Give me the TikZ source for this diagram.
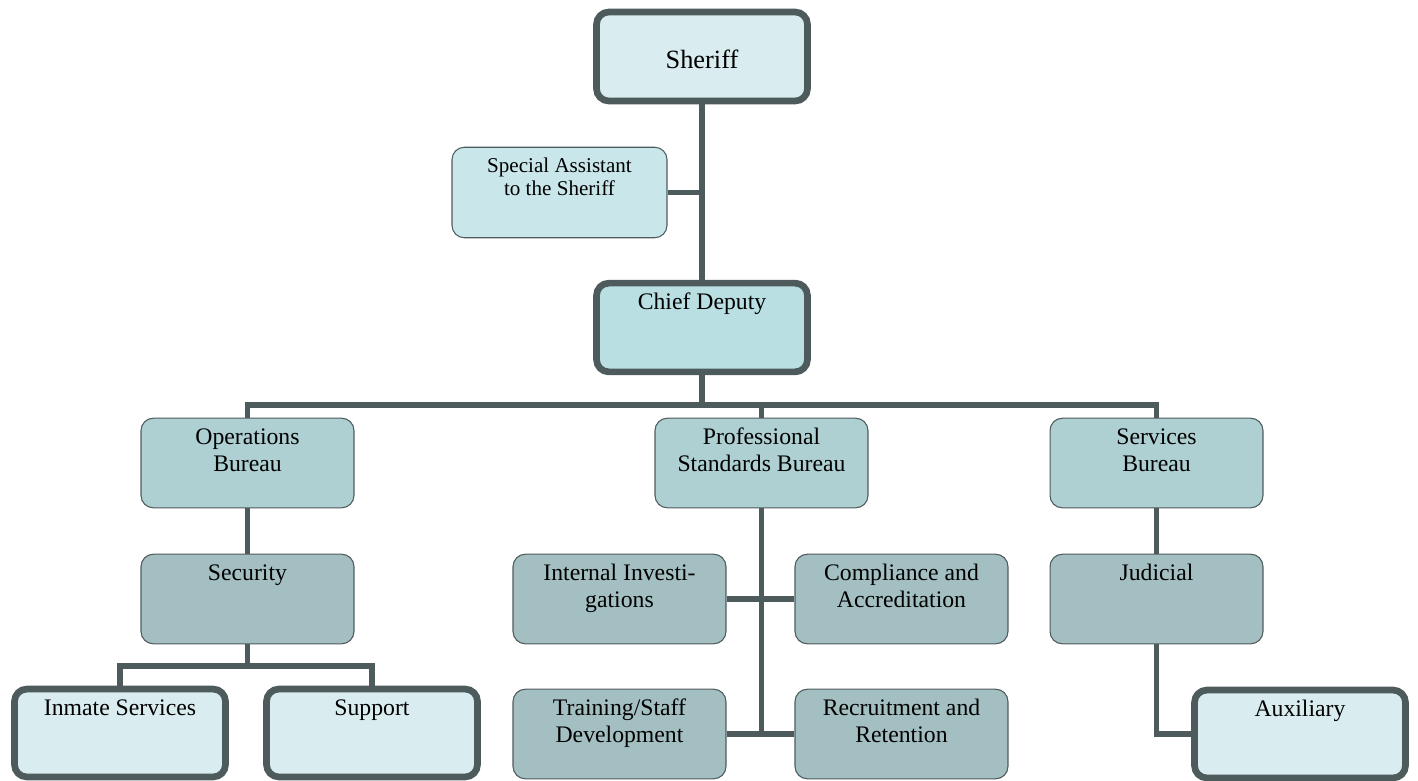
\documentclass[tikz,border=0pt]{standalone}
\usepackage{fontspec}
\setmainfont{Liberation Serif}
\definecolor{edge}{RGB}{78,91,92}
\definecolor{palefill}{RGB}{217,236,239}
\definecolor{assistfill}{RGB}{201,231,234}
\definecolor{chieffill}{RGB}{186,223,226}
\definecolor{bureaufill}{RGB}{174,208,210}
\definecolor{sectionfill}{RGB}{163,191,193}

\begin{document}
\begin{tikzpicture}[x=0.02cm,y=-0.02cm]
\tikzstyle{conn}=[draw=edge,line width=3.4pt]
\tikzstyle{unit}=[draw=edge,line width=0.6pt,rounded corners=7pt,align=center,minimum width=4.26cm,inner ysep=4pt,text height=11pt,text depth=32pt,font=\fontsize{13.5}{15.5}\selectfont]
\tikzstyle{twoline}=[text height=26.5pt,text depth=16.5pt]
\tikzstyle{head}=[unit,line width=3.8pt,minimum width=4.22cm,text depth=31.5pt]
\tikzstyle{bureau}=[unit,twoline,fill=bureaufill]
\tikzstyle{section}=[unit,fill=sectionfill]
\tikzstyle{leaf}=[head,fill=palefill,minimum width=4.22cm,text depth=31pt]
\useasboundingbox (0,0) rectangle (1418,781);
% top of the chart
\node[head,fill=palefill,text height=15.5pt,text depth=1.3pt,minimum height=1.78cm,font=\fontsize{15}{17}\selectfont] (sheriff) at (702,56.5) {Sheriff};
\node[unit,fill=assistfill,minimum width=4.3cm,text height=23.5pt,text depth=20pt,font=\fontsize{12}{13}\selectfont] (assistant) at (559.5,192.5) {Special Assistant\\to the Sheriff};
\node[head,fill=chieffill] (chief) at (702,327.5) {Chief Deputy};
% bureaus
\node[bureau] (ops) at (247.5,463) {Operations\\Bureau};
\node[bureau] (psb) at (761.5,463) {Professional\\Standards Bureau};
\node[bureau] (svc) at (1156.5,463) {Services\\Bureau};
% sections
\node[section] (security) at (247.5,599) {Security};
\node[section,twoline] (internal) at (619.5,599) {Internal Investi-\\gations};
\node[section,twoline] (compliance) at (901.5,599) {Compliance and\\Accreditation};
\node[section,twoline] (training) at (619.5,734) {Training/Staff\\Development};
\node[section,twoline] (recruit) at (901.5,734) {Recruitment and\\Retention};
\node[section] (judicial) at (1156.5,599) {Judicial};
\node[leaf] (inmate) at (120,733) {Inmate Services};
\node[leaf] (support) at (372,733) {Support};
\node[leaf] (auxiliary) at (1300,734) {Auxiliary};
\coordinate (bar) at (702,405);
\coordinate (secbar) at (247.5,666);
\draw[conn] (sheriff) -- (chief);
\draw[conn] (assistant.east) -- (assistant.east -| sheriff.south);
\draw[conn] (chief) -- (bar);
\draw[conn] (ops.north) |- (bar) -| (svc.north);
\draw[conn] (psb.north) -- (psb.north |- bar);
\draw[conn] (ops) -- (security);
\draw[conn] (security) -- (secbar);
\draw[conn] (inmate.north) |- (secbar) -| (support.north);
\draw[conn] (psb.south) -- (psb.south |- training.east);
\draw[conn] (internal.east) -- (compliance.west);
\draw[conn] (training.east) -- (recruit.west);
\draw[conn] (svc) -- (judicial);
\draw[conn] (judicial.south) |- (auxiliary.west);
\end{tikzpicture}
\end{document}
